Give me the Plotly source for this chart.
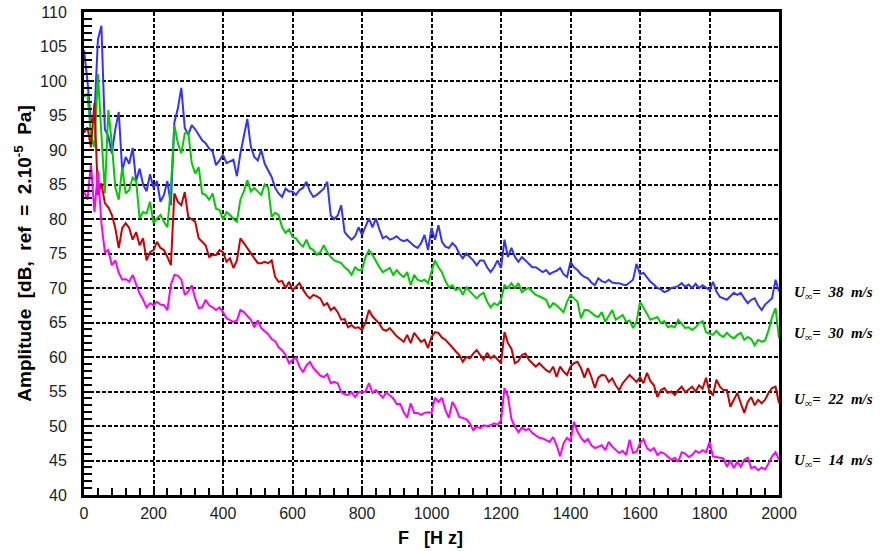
import plotly.graph_objects as go

# Frequency axis (Hz), 10 Hz resolution
freq = list(range(0, 2001, 10))

# Amplitude [dB] for U = 38 m/s
u38 = [
    104.5, 100, 94, 95, 106, 108, 93, 92, 89.5, 93,
    95.5, 87, 89, 88, 90.3, 85.5, 87.3, 85, 84, 86.5,
    84.5, 85.5, 82.5, 83.5, 85.5, 82, 94, 96, 99, 93.2,
    92.2, 93.6, 93, 92.2, 91.4, 91, 90.2, 89.8, 87.8, 88.5,
    89.3, 88.1, 88.3, 88.6, 86.2, 89.5, 92, 94.5, 90.5, 89,
    88.5, 90, 88, 87, 86.1, 84.5, 83.7, 83.2, 84.4, 84,
    84, 83.5, 84.2, 84.5, 85.4, 84, 83.2, 83.5, 84, 84.4,
    85.4, 80.5, 80, 80.5, 82, 78.1, 77.5, 77, 77.5, 78.8,
    77.7, 79, 80.1, 78.8, 80.1, 78.5, 77.2, 77.5, 77, 77.2,
    77.5, 77, 76.8, 77, 76.5, 76.1, 75.8, 76.5, 77.7, 75.5,
    78.7, 77, 79.1, 76.7, 76, 75.8, 76.5, 76, 75, 74.3,
    75, 74.5, 74, 73.3, 74, 74, 73, 72.3, 73, 74,
    72.9, 77, 74.5, 75.8, 74.5, 73.8, 74.5, 74, 73.5, 73,
    73, 72.6, 72.3, 72.6, 72, 72.3, 72.5, 72.9, 72, 71.6,
    73.8, 73, 72.6, 72, 71.6, 71.4, 70.8, 70.4, 71.4, 71,
    70.8, 71.2, 70.8, 70.7, 70.7, 70.5, 70.4, 70.8, 71.2, 73.5,
    72, 72.2, 71.5, 70.9, 70.5, 70, 69.8, 69.4, 69.6, 70,
    70.1, 70.3, 70.7, 70.2, 70.5, 70, 70.6, 70, 70.4, 70,
    69.7, 70.9, 69.5, 68.7, 68.5, 68.3, 68.8, 69.3, 69, 69.3,
    68.5, 67.8, 68.3, 68.5, 67.5, 66.8, 67.6, 68, 68.5, 71.2,
    69.5,
]

# Amplitude [dB] for U = 30 m/s
u30 = [
    97.7, 98.2, 92, 90.4, 101, 92, 83.7, 95.8, 91, 84.6,
    82.8, 87.5, 83.7, 84.2, 86, 85.5, 80.1, 81, 80.8, 82.5,
    79.4, 80.1, 80.6, 79.6, 78.8, 84.6, 93.6, 91, 89.5, 92.4,
    92.6, 88.1, 86.6, 87.5, 83.7, 83.5, 82.8, 83.7, 81.5, 81.3,
    79.9, 81, 80.6, 80, 79.6, 82.8, 84, 85.6, 84, 84.5,
    84, 83.5, 85, 84.6, 80.3, 80.9, 80.6, 78.8, 78, 78.5,
    77.4, 77.2, 76.5, 76, 77, 75.8, 75.5, 74.8, 75.2, 76.2,
    75.2, 74.5, 74, 73.8, 73.6, 73, 72.6, 71.9, 73, 72.6,
    72.6, 74.5, 75.5, 74.8, 73.8, 73, 72.3, 72.6, 72.9, 71.9,
    72.6, 72, 71.6, 72.3, 70.4, 71.9, 71.2, 71, 71.2, 70.7,
    72.2, 74, 73, 72.3, 71, 70.1, 70.4, 69.7, 70, 69,
    70.1, 69.5, 69, 68.5, 69, 69.3, 68, 67.2, 67.8, 67.5,
    68.3, 70.4, 70, 70.7, 70, 70.7, 69.4, 69.8, 70, 69.5,
    69, 68.8, 68.5, 68.3, 67.1, 67.8, 67.5, 67, 66.5, 68,
    69, 68.5, 68, 65.6, 66.8, 66.8, 66.4, 66, 65.8, 66.5,
    65.1, 66, 66.8, 65.4, 65.8, 66.1, 65.1, 65.3, 64.2, 65.1,
    68, 67.1, 66.4, 65.4, 65.6, 65.8, 64.9, 65.2, 64.3, 64.5,
    64.3, 65.4, 64.8, 64.2, 64.3, 63.9, 64.3, 64.9, 65.2, 63.6,
    63.4, 63.2, 63.8, 63.2, 62.9, 63.5, 63, 62.7, 63.2, 63.5,
    62.5, 62.9, 62.6, 61.7, 62.5, 62.2, 62.4, 63.9, 65.8, 67.1,
    62.7,
]

# Amplitude [dB] for U = 22 m/s
u22 = [
    92.5, 93.3, 90.4, 96.8, 83.5, 85.2, 82.3, 81.7, 80.6, 78.7,
    75.8, 78.7, 79.4, 78.7, 77, 78.1, 76.2, 77.2, 74, 75.2,
    75.5, 76.7, 75.8, 75.5, 74.5, 73.3, 83.7, 82.5, 82, 83.9,
    80.3, 79.9, 79.6, 77.2, 76.7, 76.2, 74.5, 74.8, 74.8, 75.5,
    75.2, 73.8, 74.3, 72.9, 74, 77.2, 76.5, 75.8, 75, 74.3,
    73.6, 73.6, 73.8, 73.6, 74, 71.6, 70.9, 71, 70, 70.9,
    69.7, 70.2, 70.7, 69.8, 69, 68.5, 69, 68.8, 68.5, 67.5,
    67.8, 66.8, 67.2, 66.5, 65.4, 65.5, 64.3, 64.6, 64.2, 64.3,
    63.9, 65, 66.8, 65.9, 65.3, 64.8, 64, 63.8, 64.2, 63.6,
    63, 62.6, 62.2, 63.2, 62, 63.5, 62.8, 62.2, 62.5, 61.3,
    62.9, 63.6, 63.5, 62.8, 62.5, 62, 61.4, 60.8, 60.3, 59.3,
    60, 59.8, 60.5, 61, 60.2, 59.6, 60.6, 59.8, 60.2, 59.6,
    59.1, 63.6, 62, 61.2, 59.1, 59.4, 60.3, 60.5, 59.6, 59.1,
    58.6, 59.1, 58.6, 58.1, 57.8, 58.6, 57.1, 58.6, 57.9, 57.4,
    58.6, 59.1, 59.3, 58.4, 57, 58.4, 57.1, 55.5, 57, 57.4,
    57.3, 56.4, 56.9, 55.9, 55.2, 56.2, 56.8, 57.4, 56.9, 56.4,
    57.1, 56.2, 57.7, 56.5, 55.9, 54.2, 55.2, 55.5, 54.8, 55,
    54.5, 55.2, 55.7, 54.9, 55.3, 55.7, 55, 55.9, 55.4, 57,
    54.9, 54.5, 56.7, 55.7, 55.2, 55.2, 52.8, 53.8, 54.8, 53.3,
    51.9, 53.5, 54.2, 53, 53.8, 53.3, 53.8, 54.8, 55.5, 55.7,
    53.3,
]

# Amplitude [dB] for U = 14 m/s
u14 = [
    84, 82.8, 88, 81, 87, 79.4, 75.2, 75.5, 73.3, 74,
    72.2, 71.2, 71.3, 70.9, 71.9, 70.5, 69.2, 68.3, 67.2, 67.8,
    67.5, 68, 67.6, 67.5, 66.8, 70.5, 71.9, 71.8, 71.2, 69,
    69.5, 70.4, 68.5, 67.1, 67.2, 68.3, 67.5, 67.2, 66.8, 67.2,
    66.5, 65.6, 65.3, 65.1, 65.3, 66.8, 66.5, 66, 65.4, 64.3,
    65.3, 64.2, 63.7, 63.3, 62.6, 62.3, 61.4, 61, 60.3, 59.1,
    59.6, 59.9, 58.6, 57.8, 58.8, 59.3, 58.4, 57.8, 57.3, 57.1,
    57.5, 56.2, 56.4, 56.2, 54.9, 54.6, 54.5, 54.9, 54.2, 54.9,
    54.9, 55, 56.2, 54.8, 55.2, 54.6, 54.1, 54.9, 54.5, 54,
    53.2, 53.2, 52, 51.2, 53.3, 51.9, 51.9, 51.6, 51.9, 52,
    51.9, 54.1, 53.5, 54.1, 52.3, 51.2, 53.5, 52.6, 51.3, 51.2,
    51, 50.4, 49.4, 49.9, 49.7, 50.1, 50, 50.1, 50.4, 50.2,
    50.8, 55.5, 54.3, 51, 49.9, 49.1, 49.8, 49.4, 49.6, 49,
    48.7, 48.3, 48.2, 48, 47.7, 48.4, 47.2, 45.6, 47.5, 48.3,
    47.8, 50.6, 49.2, 48.3, 47.7, 48.1, 47.2, 46.8, 47, 47.2,
    46.5, 47.7, 47, 46.6, 46.1, 46.4, 45.8, 48, 46.1, 46.3,
    47.5, 48.1, 46.8, 46.4, 46.8, 45.8, 46.2, 46, 45.5, 45.1,
    45.4, 44.8, 46.2, 46, 45.5, 45.8, 46.4, 46.1, 46.5, 46.2,
    47.7, 45.6, 45.5, 45.4, 45.3, 44.1, 45, 43.9, 44.8, 44.1,
    45.1, 45.4, 43.9, 44.1, 43.6, 44, 43.7, 44.6, 45.6, 46.2,
    45.1,
]

series_labels = ["38", "30", "22", "14"]
label_levels = [69.3, 63.3, 53.8, 44.9]
series_colors = ["#3333ff", "#00cc00", "#cc0000", "#ff00ff"]

x_ticks = [0, 200, 400, 600, 800, 1000, 1200, 1400, 1600, 1800, 2000]
y_ticks = [40, 45, 50, 55, 60, 65, 70, 75, 80, 85, 90, 95, 100, 105, 110]

fig = go.Figure()
for vals, col in zip([u38, u30, u22, u14], series_colors):
    fig.add_trace(go.Scatter(x=freq, y=vals, mode="lines",
                             line=dict(color=col, width=2), hoverinfo="skip"))

axis_common = dict(
    showline=True, linecolor="black", linewidth=3, mirror=True,
    showgrid=True, gridcolor="black", gridwidth=1.6, griddash="4px,2px",
    ticks="inside", tickcolor="black", tickwidth=2, ticklen=8,
    zeroline=False, automargin=False, ticklabeloverflow="allow",
    tickfont=dict(family="Liberation Sans, Arial, sans-serif", size=16, color="#222"),
)

fig.update_xaxes(
    range=[0, 2000], tickvals=x_ticks, ticktext=[str(v) for v in x_ticks],
    minor=dict(dtick=40, ticks="inside", ticklen=7, tickwidth=2, tickcolor="black", showgrid=False),
    ticklabelstandoff=2,
    **axis_common,
)
fig.update_yaxes(
    range=[40, 110], tickvals=y_ticks, ticktext=[str(v) for v in y_ticks],
    minor=dict(dtick=1, ticks="inside", ticklen=8, tickwidth=2, tickcolor="black", showgrid=False),
    ticklabelstandoff=11,
    **axis_common,
)

annotations = [
    dict(text="Amplitude  [dB,  ref  =  2.10<sup>-5</sup>  Pa]", textangle=-90,
         xref="paper", yref="paper", x=-0.089, y=0.5, xanchor="center", yanchor="middle",
         showarrow=False,
         font=dict(family="Liberation Sans, Arial, sans-serif", size=19, color="black", weight="bold")),
    dict(text="F   [H z]", xref="paper", yref="paper", x=0.499, y=-0.089,
         xanchor="center", yanchor="middle", showarrow=False,
         font=dict(family="Liberation Sans, Arial, sans-serif", size=18, color="black", weight="bold")),
]
for lab, lvl in zip(series_labels, label_levels):
    annotations.append(dict(
        text="U<sub>∞</sub>=  " + lab + "  m/s",
        xref="paper", yref="y", x=1.019, y=lvl, xanchor="left", yanchor="middle",
        showarrow=False,
        font=dict(family="Liberation Serif, Times New Roman, serif", size=15,
                  color="black", weight="bold", style="italic"),
    ))

fig.update_layout(
    width=884, height=551,
    margin=dict(l=84, r=105, t=12, b=56),
    paper_bgcolor="white", plot_bgcolor="white",
    showlegend=False, hovermode=False,
    annotations=annotations,
)

# remove the browser's default 8px body margin so the figure fills the window
fig.write_html("out.html", config={"displayModeBar": False},
               post_script="document.body.style.margin='0';")
